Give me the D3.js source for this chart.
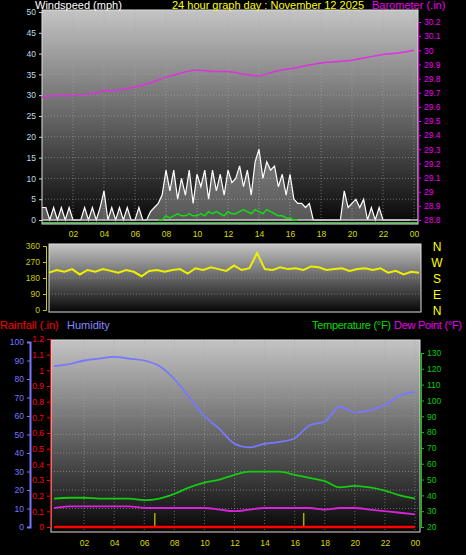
<!DOCTYPE html>
<html><head><meta charset="utf-8">
<script src="https://cdn.jsdelivr.net/npm/d3@7"></script>
<style>body{margin:0;background:#000}svg{display:block;font-family:"Liberation Sans",Arial,sans-serif}</style>
</head><body><svg id="c" width="466" height="555"></svg>
<script>
// hourly readings (hour 0..24)
const hours = d3.range(0, 25);
const barometer = [29.67,29.68,29.68,29.69,29.71,29.72,29.74,29.77,29.81,29.84,29.86,29.85,29.85,29.83,29.82,29.85,29.87,29.89,29.91,29.92,29.93,29.95,29.97,29.98,30.0];
const humidity = [87,88,90,91,92,91,90,87,80,70,60,53,45,43,45,46,48,55,57,65,62,63,66,71,73];
const temperature = [38,38.5,38.5,38,38,38,37,38,41,45,48,50,53,55,55,55,53,51,49,45,46,45,43,40,38];
const dewPoint = [32,33,33,33,33,33,32,32,32,32,32,31,30,31,32,32,32,32,31,32,32,31,30,29,28];
const rainfall = [0,0,0,0,0,0,0,0,0,0,0,0,0,0,0,0,0,0,0,0,0,0,0,0,0];
// gusts every 15 minutes
const gusts = [3,3,0,3,0,3,0,3,0,0,0,3,0,3,0,3,7,0,3,0,3,0,3,0,0,3,0,0,2,3,4,6,
  12,7,12,5,10,6,12,4,11,8,12,5,12,7,11,6,12,9,10,13,8,12,6,14,17,10,14,12,13,8,
  11,6,11,5,4,4,3,4,0,0,0,0,0,0,0,0,7,3,4,5,3,5,0,3,0,3,0,0,0,0,0,0,0,0];
const windAvg = [0,0,0,0,0,0,0,0,0,0,0,0,0,0,0,0,0,0,0,0,0,0,0,0,0,0,0,0,0,0,0,0,
  1,0.5,1,1.5,1,1,1.5,1,1,1.5,1,2,1.5,2,1.5,1,2,1.5,1.5,2,2.5,2,1.5,2.5,2,1.5,2.5,2,1.5,1,
  1,0.5,0.5,0,0,0,0,0,0,0,0,0,0,0,0,0,0,0,0,0,0,0,0,0,0,0,0,0,0,0,0,0];
// wind direction every 30 minutes
const direction = [210,225,215,230,200,225,215,230,220,210,225,215,190,220,225,215,
  225,230,205,235,225,240,230,220,250,225,235,320,230,225,240,230,235,225,245,240,
  225,230,235,220,230,235,225,235,210,220,200,215,210];
const sunMarks = [6.7, 16.6];
const hourTicks = d3.range(2, 25, 2);
const fmtHour = h => String(h % 24).padStart(2, "0");

const svg = d3.select("#c");
svg.append("rect").attr("width",466).attr("height",555).attr("fill","#000");

// gradient background
const defs = svg.append("defs");
const g = defs.append("linearGradient").attr("id","bg").attr("x1",0).attr("x2",0).attr("y1",0).attr("y2",1);
g.append("stop").attr("offset","0%").attr("stop-color","#c4c4c4");
g.append("stop").attr("offset","100%").attr("stop-color","#060606");

function panel(x0, x1, y0, y1) {
  svg.append("rect").attr("x",x0).attr("y",y0).attr("width",x1-x0).attr("height",y1-y0)
    .attr("fill","url(#bg)").attr("stroke","#ddd").attr("stroke-width",1);
}
function grid(x, y, xt, yt, x0, x1, y0, y1) {
  const gg = svg.append("g").attr("stroke","#aaa").attr("stroke-opacity",0.55).attr("stroke-dasharray","1,2");
  xt.forEach(t => gg.append("line").attr("x1",x(t)).attr("x2",x(t)).attr("y1",y0).attr("y2",y1));
  yt.forEach(t => gg.append("line").attr("x1",x0).attr("x2",x1).attr("y1",y(t)).attr("y2",y(t)));
}
function txt(x, y, s, col, anchor, size) {
  return svg.append("text").attr("x",x).attr("y",y).attr("fill",col).attr("text-anchor",anchor||"start")
    .attr("font-size",size||11).text(s);
}
function axis(gen, tx, ty, col, size) {
  const a = svg.append("g").attr("transform",`translate(${tx},${ty})`).call(gen);
  a.selectAll("path").attr("stroke",col);
  a.selectAll("line").attr("stroke",col);
  a.selectAll("text").attr("fill",col).attr("font-size",size||8.5);
  return a;
}

// ---------- top panel ----------
const xT = d3.scaleLinear().domain([0,24]).range([42,414]);
const yW = d3.scaleLinear().domain([0,50]).range([220,12]);
const yB = d3.scaleLinear().domain([28.8,30.2]).range([220,22]);
panel(42, 418, 10, 224);
grid(xT, yW, hourTicks, d3.range(5,50,5), 42, 418, 10, 224);
const q = i => i * 0.25;
svg.append("path").datum(gusts)
  .attr("d", d3.area().x((d,i)=>xT(q(i))).y0(yW(0)).y1(d=>yW(d)))
  .attr("fill","#e8e8e8").attr("fill-opacity",0.35);
svg.append("path").datum(gusts)
  .attr("d", d3.line().x((d,i)=>xT(q(i))).y(d=>yW(d)))
  .attr("fill","none").attr("stroke","#fff").attr("stroke-width",1.2);
svg.append("line").attr("x1",42).attr("x2",418).attr("y1",yW(0)).attr("y2",yW(0)).attr("stroke","#ccc").attr("stroke-width",1.5);
svg.append("line").attr("x1",42).attr("x2",418).attr("y1",223).attr("y2",223).attr("stroke","#7d7").attr("stroke-width",1.5);
svg.append("path").datum(windAvg)
  .attr("d", d3.line().x((d,i)=>xT(q(i))).y(d=>yW(d)).defined((d,i)=>i>=30&&i<=66))
  .attr("fill","none").attr("stroke","#1d1").attr("stroke-width",1.5);
svg.append("path").datum(barometer)
  .attr("d", d3.line().x((d,i)=>xT(hours[i])).y(d=>yW(0)+yB(d)-yB(28.8)).curve(d3.curveMonotoneX))
  .attr("fill","none").attr("stroke","#e030e0").attr("stroke-width",1.5);
axis(d3.axisLeft(yW).tickValues(d3.range(0,51,5)).tickSize(3), 42, 0, "#bde").select(".domain").attr("stroke","none");
axis(d3.axisRight(yB).tickValues(d3.range(28.8,30.21,0.1)).tickFormat(d=>+d.toFixed(1)).tickSize(3), 418, 0, "#e0e").select(".domain").attr("stroke","#e0e");
axis(d3.axisBottom(xT).tickValues(hourTicks).tickFormat(fmtHour).tickSize(0), 0, 228, "#dd0").select(".domain").remove();
txt(35, 9, "Windspeed (mph)", "#fff");
txt(172, 9, "24 hour graph day : November 12 2025", "#ff0");
txt(372, 9, "Barometer (.in)", "#e0e");

// ---------- direction panel ----------
const xD = d3.scaleLinear().domain([0,24]).range([49,419]);
const yD = d3.scaleLinear().domain([0,360]).range([310,246]);
panel(49, 421, 244, 312);
grid(xD, yD, [], [90,180,270], 49, 421, 244, 312);
svg.append("path").datum(direction)
  .attr("d", d3.line().x((d,i)=>xD(i*0.5)).y(d=>yD(d)))
  .attr("fill","none").attr("stroke","#ee0").attr("stroke-width",2);
axis(d3.axisLeft(yD).tickValues([0,90,180,270,360]).tickSize(3), 46, 0, "#cc0");
["N","W","S","E","N"].forEach((s,i)=>txt(437, yD(360-i*90)+5, s, "#ff0", "middle", 12));

// ---------- bottom panel ----------
txt(0, 329, "Rainfall (.in)", "#f00");
txt(67, 329, "Humidity", "#88f");
txt(312, 329, "Temperature (°F)", "#0d0").attr("textLength",79);
txt(394, 329, "Dew Point (°F)", "#e0e").attr("textLength",68);
const xB = d3.scaleLinear().domain([0,24]).range([54,415]);
const yH = d3.scaleLinear().domain([0,100]).range([527,342]);
const yR = d3.scaleLinear().domain([0,1.2]).range([527,339]);
const yTp = d3.scaleLinear().domain([20,130]).range([527,353]);
panel(51, 420, 340, 532);
grid(xB, yH, hourTicks, d3.range(10,101,10), 51, 420, 340, 532);
sunMarks.forEach(h => svg.append("line").attr("x1",xB(h)).attr("x2",xB(h)).attr("y1",yR(0)).attr("y2",yR(0.09))
  .attr("stroke","#aa0").attr("stroke-width",1.5));
const lineB = (arr, y, col) => svg.append("path").datum(arr)
  .attr("d", d3.line().x((d,i)=>xB(hours[i])).y(d=>y(d)).curve(d3.curveMonotoneX))
  .attr("fill","none").attr("stroke",col).attr("stroke-width",1.8);
lineB(humidity, yH, "#77f");
lineB(temperature, yTp, "#1c1");
lineB(dewPoint, yTp, "#d2d");
lineB(rainfall, yR, "#f00").attr("stroke-width",2.5);
axis(d3.axisLeft(yH).tickValues(d3.range(0,101,10)).tickSize(3), 30, 0, "#77f").select(".domain").attr("stroke-width",2);
axis(d3.axisLeft(yR).tickValues(d3.range(0,1.21,0.1)).tickFormat(d=>+d.toFixed(1)).tickSize(3), 50, 0, "#f00");
axis(d3.axisRight(yTp).tickValues(d3.range(20,131,10)).tickSize(3), 421, 0, "#0c0");
axis(d3.axisBottom(xB).tickValues(hourTicks).tickFormat(fmtHour).tickSize(0), 0, 537, "#dd0").select(".domain").remove();
</script></body></html>
